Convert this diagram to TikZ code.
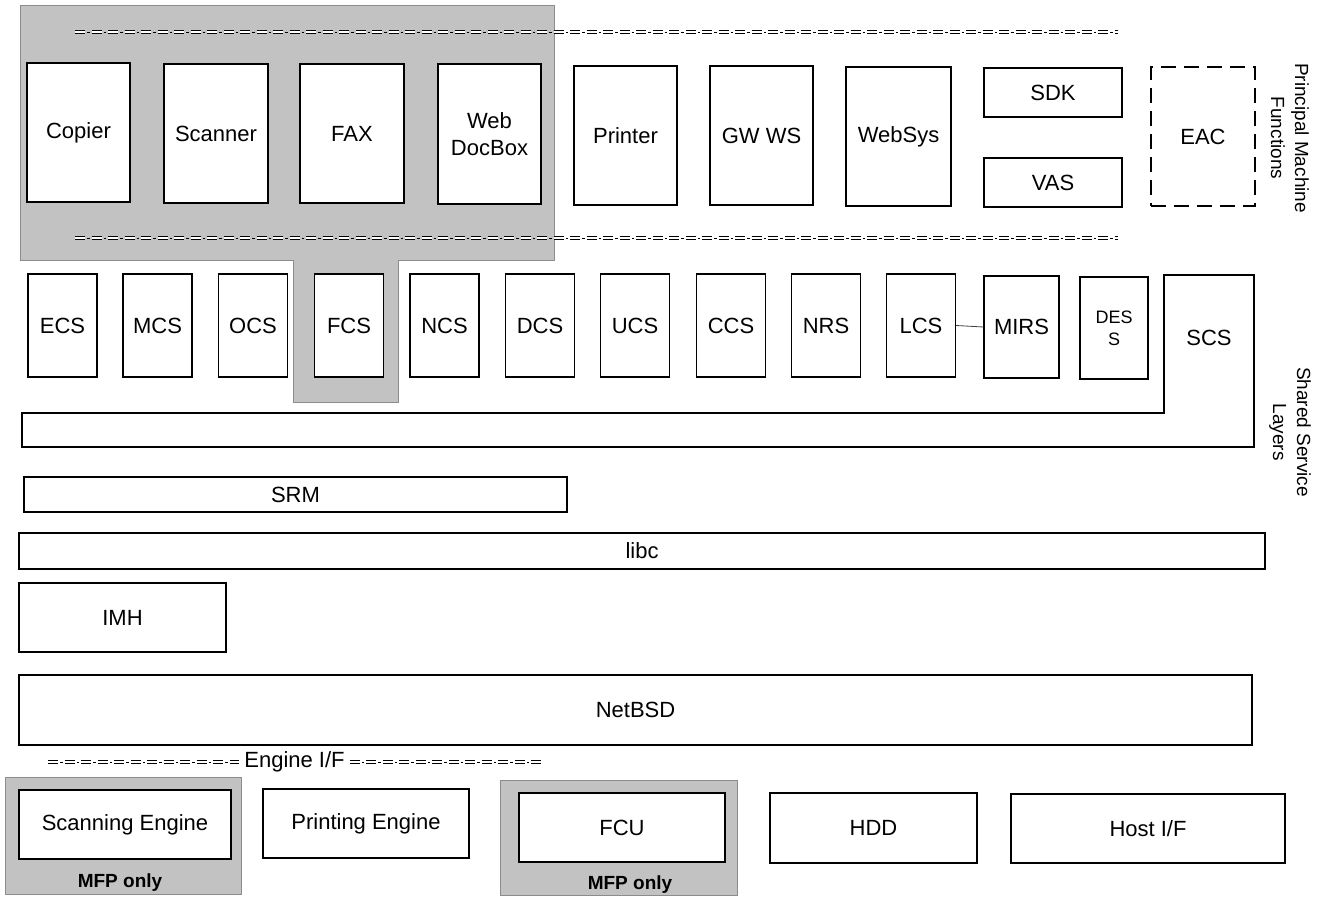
\documentclass[tikz,border=0pt]{standalone}
\usepackage{fontspec}
\setmainfont{Liberation Sans}
\newcommand\mainfs{\fontsize{22}{27}\selectfont}
\newcommand\sidefs{\fontsize{19}{24}\selectfont}
\newcommand\smallfs{\fontsize{18}{22}\selectfont}
\newcommand\mfpfs{\fontsize{19}{22}\selectfont\bfseries}
\tikzset{
  blk/.style={draw, fill=white, line width=1.2pt, inner sep=0pt, align=center, font=\mainfs},
  wh/.style 2 args={minimum width=#1pt, minimum height=#2pt},
  svc/.style={blk, wh={69}{103}},
  shadebg/.style={fill=black!24, draw=black!45, line width=0.6pt},
  shadebox/.style={shadebg, inner sep=0pt},
  dd/.style={draw=black, double=white, double distance=2.6pt, line width=0.9pt, dash pattern=on 10pt off 6.5pt},
  ddmid/.style={draw=black, line width=1pt, dash pattern=on 2.5pt off 14pt, dash phase=4.5pt},
  eacbox/.style={blk, dash pattern=on 15pt off 8pt},
  sidelbl/.style={rotate=-90, align=center, font=\sidefs, inner sep=0pt},
  link/.style={draw=black!75, line width=0.8pt},
  txt/.style={font=\mainfs, inner sep=0pt}
}
\newcommand\ddash[2]{\draw[dd] #1 -- #2; \draw[ddmid] #1 -- #2;}
\begin{document}
\begin{tikzpicture}[x=1pt,y=-1pt]
\useasboundingbox[fill=white] (0,0) rectangle (1323,897);

% shaded region of the top functions
\path[shadebg] (20,5) -- (554,5) -- (554,260) -- (398,260) -- (398,402) -- (293,402) -- (293,260) -- (20,260) -- cycle;

% double dashed borders
\coordinate (t1) at (75,32); \coordinate (t2) at (1118,32);
\coordinate (b1) at (75,238); \coordinate (b2) at (1118,238);
\ddash{(t1)}{(t2)}
\ddash{(b1)}{(b2)}

% principal machine functions
\node[blk, wh={103}{139}] (copier) at (78.5,132.5) {Copier};
\node[blk, wh={104}{139}] (scanner) at (216,133.5) {Scanner};
\node[blk, wh={104}{139}] (fax) at (352,133.5) {FAX};
\node[blk, wh={103}{140}] (webdoc) at (489.5,134) {Web\\DocBox};
\node[blk, wh={103}{139}] (printer) at (625.5,135.5) {Printer};
\node[blk, wh={103}{139}] (gwws) at (761.5,135.5) {GW WS};
\node[blk, wh={105}{139}] (websys) at (898.5,136.5) {WebSys};
\node[blk, wh={138}{49}] (sdk) at (1053,92.5) {SDK};
\node[blk, wh={138}{49}] (vas) at (1053,182.5) {VAS};
\node[eacbox, wh={104}{139}] (eac) at (1203,136.5) {EAC};
\node[sidelbl] (pmf) at (1290,138) {Principal Machine\\Functions};

% shared services
\node[svc] (ecs) at (62.5,325.5) {ECS};
\node[svc] (mcs) at (157.5,325.5) {MCS};
\node[svc] (ocs) at (253,325.5) {OCS};
\node[svc] (fcs) at (349,325.5) {FCS};
\node[svc] (ncs) at (444.5,325.5) {NCS};
\node[svc] (dcs) at (540,325.5) {DCS};
\node[svc] (ucs) at (635,325.5) {UCS};
\node[svc] (ccs) at (731,325.5) {CCS};
\node[svc] (nrs) at (826,325.5) {NRS};
\node[svc] (lcs) at (921,325.5) {LCS};
\node[svc, wh={75}{102}] (mirs) at (1021.5,327) {MIRS};
\node[svc, wh={68}{102}, font=\smallfs] (dess) at (1114,328) {DES\\S};
\draw[link] (lcs.east) -- (mirs.west);

% SCS L-shape
\draw[line width=1.2pt, fill=white] (1164,275) -- (1254,275) -- (1254,447) -- (22,447) -- (22,413) -- (1164,413) -- cycle;
\node[txt] (scs) at (1209,338) {SCS};
\node[sidelbl] (ssl) at (1290,432) {Shared Service\\Layers};

% lower layers
\node[blk, wh={543}{35}] (srm) at (295.5,494.5) {SRM};
\node[blk, wh={1246}{36}] (libc) at (642,551) {libc};
\node[blk, wh={207}{69}] (imh) at (122.5,617.5) {IMH};
\node[blk, wh={1233}{70}] (netbsd) at (635.5,710) {NetBSD};

% engine interface
\node[txt, inner xsep=5pt] (eif) at (294.5,762) {Engine I/F};
\coordinate (e1) at (48,762); \coordinate (e2) at (542,762);
\ddash{(e1)}{(eif.west)}
\ddash{(eif.east)}{(e2)}

% engines
\node[shadebox, wh={236}{117}] (mfp1) at (123,835.5) {};
\node[blk, wh={212}{69}] (scan) at (125,824.5) {Scanning Engine};
\node[font=\mfpfs, inner sep=0pt] (mfp1l) at (120,883) {MFP only};
\node[blk, wh={206}{69}] (print) at (366,823.5) {Printing Engine};
\node[shadebox, wh={237}{115}] (mfp2) at (618.5,837.5) {};
\node[blk, wh={206}{69}] (fcu) at (622,827.5) {FCU};
\node[font=\mfpfs, inner sep=0pt] (mfp2l) at (630,885) {MFP only};
\node[blk, wh={207}{70}] (hdd) at (873.5,828) {HDD};
\node[blk, wh={274}{69}] (host) at (1148,828.5) {Host I/F};
\end{tikzpicture}
\end{document}
